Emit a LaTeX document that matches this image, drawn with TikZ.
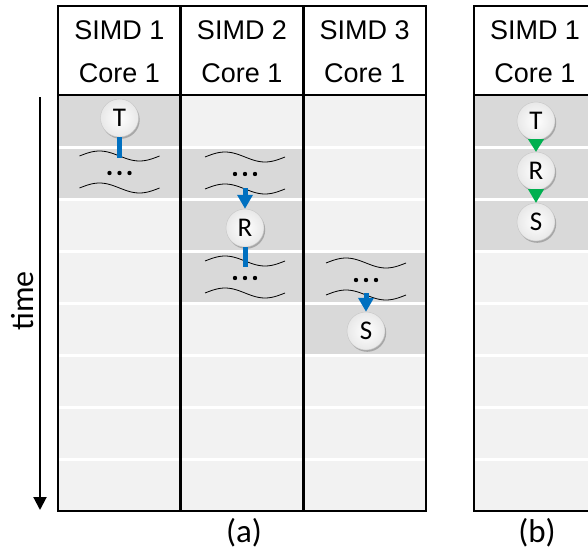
\documentclass[tikz,border=0pt]{standalone}
\usepackage{fontspec}
\setmainfont{Carlito}
\newfontfamily\headfont{Liberation Sans}
\usetikzlibrary{arrows.meta,shadows,calc}

\definecolor{cellshade}{HTML}{D9D9D9}
\definecolor{cellplain}{HTML}{F2F2F2}
\definecolor{flowblue}{HTML}{0070C0}
\definecolor{flowgreen}{HTML}{00B050}

\tikzset{
  gridline/.style={line width=2.4pt, black},
  rowsep/.style={white, line width=3pt},
  headtext/.style={font=\headfont\fontsize{27}{27}\selectfont, inner sep=0pt},
  task/.style={circle, minimum size=38pt, inner sep=0pt, draw=gray!45, line width=0.4pt,
    inner color=white, outer color=gray!18,
    drop shadow={shadow xshift=1.2pt, shadow yshift=-1.8pt, opacity=0.35, fill=black!70},
    font=\fontsize{27}{27}\selectfont},
  wavy/.style={line width=0.8pt, black},
  bluelink/.style={flowblue, line width=5pt},
  bluearrow/.style={flowblue, line width=5pt, -{Triangle[length=14pt,width=15pt]}},
  greenhead/.style={fill=flowgreen, draw=none},
  caption/.style={font=\fontsize{33}{33}\selectfont, inner sep=0pt},
  timeaxis/.style={line width=2pt, black, -{Triangle[length=13pt,width=13pt]}},
  % two wavy lines with dots between them: a stretch of other work
  busy/.pic={
    \draw[wavy] plot[domain=-40:40, samples=41] (\x, {-16 - 5*sin(4.5*(\x+40))});
    \draw[wavy] plot[domain=-40:40, samples=41] (\x, {16 - 5*sin(4.5*(\x+40))});
    \foreach \d in {-10,0,10} \fill (\d,1) circle (2.2pt);
  }
}

\begin{document}
\begin{tikzpicture}[x=1pt,y=-1pt]
\useasboundingbox (0,0) rectangle (588,554);

% ---------- panel (a): three SIMD columns ----------
\fill[cellplain] (58,95) rectangle (426,511);
\foreach \c/\r in {0/0,0/1,1/1,1/2,1/3,2/3,2/4}
  \fill[cellshade] ({58+122.667*\c},{95+52*\r}) rectangle ({58+122.667*(\c+1)},{95+52*(\r+1)});
\foreach \r in {1,...,7}
  \draw[rowsep] (58,{95+52*\r}) -- (426,{95+52*\r});
\foreach \xx in {180.67,303.33}
  \draw[gridline] (\xx,6) -- (\xx,511);
\draw[gridline] (58,95) -- (426,95);
\draw[gridline] (58,6) rectangle (426,511);

\node[headtext] (sa1) at (119.3,30) {SIMD 1};
\node[headtext] (sa2) at (242,30) {SIMD 2};
\node[headtext] (sa3) at (364.7,30) {SIMD 3};
\node[headtext] (ca1) at (119.3,73) {Core 1};
\node[headtext] (ca2) at (242,73) {Core 1};
\node[headtext] (ca3) at (364.7,73) {Core 1};

% ---------- panel (b): single SIMD column ----------
\begin{scope}
  \clip (460,0) rectangle (588,554);
  \fill[cellplain] (474,95) rectangle (600,511);
  \fill[cellshade] (474,95) rectangle (600,251);
  \foreach \r in {1,...,7}
    \draw[rowsep] (474,{95+52*\r}) -- (600,{95+52*\r});
  \draw[gridline] (474,95) -- (600,95);
  \draw[gridline] (600,6) -- (474,6) -- (474,511) -- (600,511);
\end{scope}
\node[headtext] (sb1) at (535,30) {SIMD 1};
\node[headtext] (cb1) at (535,73) {Core 1};

% ---------- other work between tasks ----------
\pic at (119.5,172) {busy};
\pic at (245,173) {busy};
\pic at (245,277) {busy};
\pic at (366,279) {busy};

% ---------- tasks ----------
\node[task] (Ta) at (119.5,118) {T};
\node[task] (Ra) at (245,228) {R};
\node[task] (Sa) at (366,331) {S};

\node[task] (Tb) at (536,121) {T};
\node[task] (Rb) at (536,171) {R};
\node[task] (Sb) at (536,222) {S};

% ---------- dependencies in (a) ----------
\coordinate (wa) at (119.5,158);
\coordinate (wb) at (245,188);
\coordinate (wc) at (245,267);
\coordinate (wd) at (366,293);
\draw[bluelink] (Ta.south) -- (wa);
\draw[bluearrow] (wb) -- (Ra.north);
\draw[bluelink] (Ra.south) -- (wc);
\draw[bluearrow] (wd) -- (Sa.north);

% ---------- dependencies in (b) ----------
\fill[greenhead] ($(Tb.south)+(-8,-1)$) -- ($(Tb.south)+(8,-1)$) -- (Rb.north) -- cycle;
\fill[greenhead] ($(Rb.south)+(-8,-1)$) -- ($(Rb.south)+(8,-1)$) -- (Sb.north) -- cycle;

% ---------- time axis and captions ----------
\coordinate (ttop) at (40,97);
\coordinate (tbot) at (40,510);
\draw[timeaxis] (ttop) -- (tbot);
\node[rotate=90, font=\fontsize{32}{32}\selectfont, inner sep=0pt] (tlabel) at (22.5,301) {time};

\node[caption] (capa) at (244,533) {(a)};
\node[caption] (capb) at (537,533) {(b)};
\end{tikzpicture}
\end{document}
